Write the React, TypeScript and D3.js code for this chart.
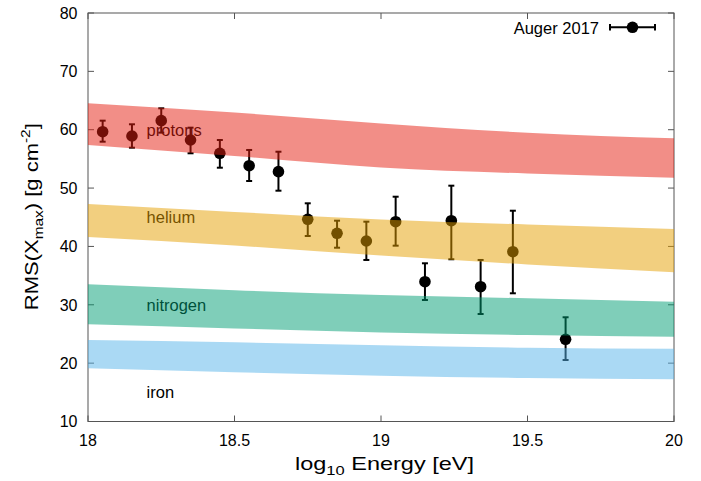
import React from "react";
import * as d3 from "d3";

// Auger 2017 RMS(Xmax) measurements
const energies = [18.05, 18.15, 18.25, 18.35, 18.45, 18.55, 18.65, 18.75, 18.85, 18.95, 19.05, 19.15, 19.24, 19.34, 19.45, 19.63];
const rmsValues = [59.66, 58.92, 61.55, 58.24, 55.96, 53.83, 52.81, 44.65, 42.25, 40.93, 44.24, 33.96, 44.41, 33.1, 39.1, 24.09];
const errUpper = [61.55, 60.93, 63.67, 60.35, 58.24, 56.53, 56.23, 47.39, 44.41, 44.24, 48.52, 37.11, 50.41, 37.68, 46.12, 27.86];
const errLower = [57.95, 56.92, 59.5, 55.96, 53.49, 51.21, 49.55, 41.79, 39.78, 37.68, 40.13, 30.82, 37.8, 28.42, 31.97, 20.54];

// Model bands for each primary
const bandEnergy = [18, 18.5, 19, 19.5, 20];
const protonHi = [64.53, 62.95, 61.07, 59.49, 58.53];
const protonLo = [57.38, 55.5, 53.53, 52.5, 51.79];
const heliumHi = [47.27, 45.92, 44.62, 43.76, 42.99];
const heliumLo = [41.62, 40.16, 38.45, 36.91, 35.57];
const nitrogenHi = [33.51, 32.5, 31.68, 31.11, 30.53];
const nitrogenLo = [26.65, 25.94, 25.25, 24.83, 24.54];
const ironHi = [23.97, 23.57, 23.06, 22.65, 22.48];
const ironLo = [19.12, 18.43, 17.85, 17.46, 17.23];

const bandNames = ["protons", "helium", "nitrogen", "iron"];
const bandLabelY = [60, 45, 30, 15];
const bandLabelE = 18.2;

const xTicks = [18, 18.5, 19, 19.5, 20];
const xTickLabels = ["18", "18.5", "19", "19.5", "20"];
const yTicks = [10, 20, 30, 40, 50, 60, 70, 80];

const legendLabel = "Auger 2017";

const FONT = "'Liberation Sans', Arial, Helvetica, sans-serif";

export default function App() {
  const W = 701;
  const H = 481;
  const left = 88;
  const right = 674;
  const top = 13;
  const bottom = 421.5;

  const x = d3.scaleLinear().domain([18, 20]).range([left, right]);
  const y = d3.scaleLinear().domain([10, 80]).range([bottom, top]);

  const bands = [
    { hi: protonHi, lo: protonLo, color: "#e51e10" },
    { hi: heliumHi, lo: heliumLo, color: "#e69f00" },
    { hi: nitrogenHi, lo: nitrogenLo, color: "#009e73" },
    { hi: ironHi, lo: ironLo, color: "#56b4e9" },
  ];

  const area = (hi: number[], lo: number[]) =>
    d3
      .area<number>()
      .x((_, i) => x(bandEnergy[i]))
      .y0((_, i) => y(lo[i]))
      .y1((_, i) => y(hi[i]))
      .curve(d3.curveMonotoneX)(bandEnergy) || "";

  const tickLen = 6;
  const axisColor = "#555";
  const cap = 3;

  return (
    <svg
      width={W}
      height={H}
      viewBox={`0 0 ${W} ${H}`}
      style={{ position: "absolute", left: 0, top: 0, display: "block", background: "#fff" }}
      fontFamily={FONT}
    >
      {/* frame and ticks */}
      <rect x={left} y={top} width={right - left} height={bottom - top} fill="none" stroke={axisColor} strokeWidth={1} />
      {yTicks.map((t) => (
        <g key={"y" + t}>
          <line x1={left} x2={left + tickLen} y1={y(t)} y2={y(t)} stroke={axisColor} />
          <line x1={right} x2={right - tickLen} y1={y(t)} y2={y(t)} stroke={axisColor} />
          <text x={77.5} y={y(t)} dy="0.36em" textAnchor="end" fontSize={16} fill="#000">
            {t}
          </text>
        </g>
      ))}
      {xTicks.map((t, i) => (
        <g key={"x" + t}>
          <line x1={x(t)} x2={x(t)} y1={bottom} y2={bottom - tickLen} stroke={axisColor} />
          <line x1={x(t)} x2={x(t)} y1={top} y2={top + tickLen} stroke={axisColor} />
          <text x={x(t)} y={446} textAnchor="middle" fontSize={16} fill="#000">
            {xTickLabels[i]}
          </text>
        </g>
      ))}

      {/* band labels (under the translucent bands) */}
      {bandNames.map((n, i) => (
        <text key={n} x={x(bandLabelE)} y={y(bandLabelY[i])} dy="0.36em" fontSize={16.5} fill="#000">
          {n}
        </text>
      ))}

      {/* data points with error bars */}
      {energies.map((e, i) => {
        const cx = x(e);
        const y1 = y(errUpper[i]);
        const y2 = y(errLower[i]);
        return (
          <g key={"p" + i} stroke="#000" strokeWidth={2}>
            <line x1={cx} x2={cx} y1={y1} y2={y2} />
            <line x1={cx - cap} x2={cx + cap} y1={y1} y2={y1} />
            <line x1={cx - cap} x2={cx + cap} y1={y2} y2={y2} />
            <circle cx={cx} cy={y(rmsValues[i])} r={5.8} fill="#000" stroke="none" />
          </g>
        );
      })}

      {/* translucent composition bands */}
      {bands.map((b, i) => (
        <path key={"b" + i} d={area(b.hi, b.lo)} fill={b.color} fillOpacity={0.5} stroke="none" />
      ))}

      {/* legend */}
      <text x={599} y={34} textAnchor="end" fontSize={16.5} fill="#000">
        {legendLabel}
      </text>
      <g stroke="#000" strokeWidth={2}>
        <line x1={610} x2={655} y1={27.3} y2={27.3} />
        <line x1={610} x2={610} y1={24} y2={30.6} />
        <line x1={655} x2={655} y1={24} y2={30.6} />
        <circle cx={632.5} cy={27.3} r={5.8} fill="#000" stroke="none" />
      </g>

      {/* axis titles */}
      <text x={384.5} y={470} textAnchor="middle" fontSize={18.5} fill="#000" textLength={179} lengthAdjust="spacingAndGlyphs">
        log<tspan fontSize={13} dy={5}>10</tspan>
        <tspan dy={-5}> Energy [eV]</tspan>
      </text>
      <text
        transform={`translate(38.3, 216.7) rotate(-90)`}
        textAnchor="middle"
        fontSize={18.5}
        fill="#000"
        textLength={187}
        lengthAdjust="spacingAndGlyphs"
      >
        RMS(X<tspan fontSize={13} dy={5}>max</tspan>
        <tspan dy={-5}>) [g cm</tspan>
        <tspan fontSize={13} dy={-8}>-2</tspan>
        <tspan dy={8}>]</tspan>
      </text>
    </svg>
  );
}
